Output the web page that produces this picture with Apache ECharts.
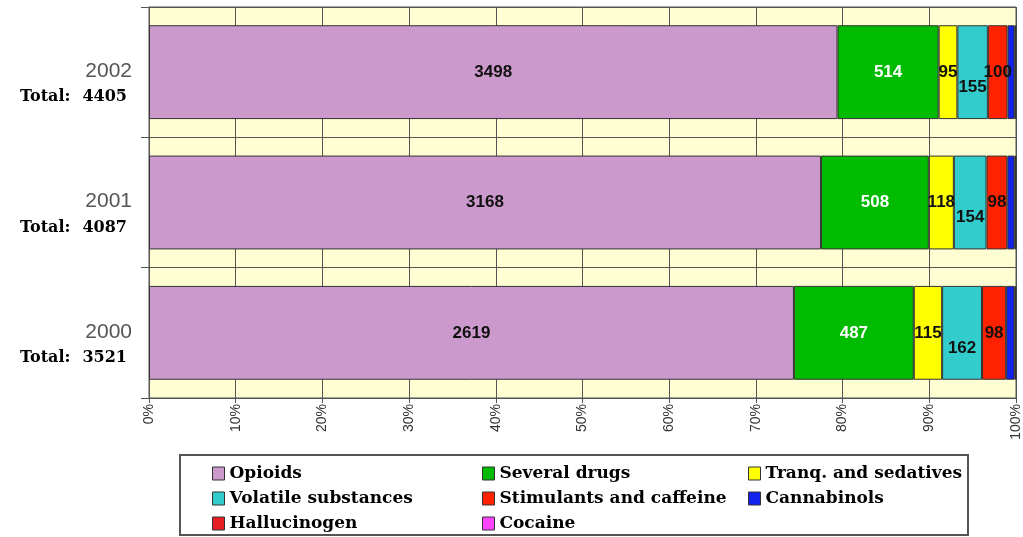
<!DOCTYPE html>
<html>
<head>
<meta charset="utf-8">
<script src="https://cdn.jsdelivr.net/npm/echarts@6/dist/echarts.min.js"></script>
<style>
  html, body { margin: 0; padding: 0; background: #fff; }
  #chart { width: 1023px; height: 537px; }
</style>
</head>
<body>
<div id="chart"></div>
<script>
// years from bottom to top
var years = ["2000", "2001", "2002"];
var totals = [3521, 4087, 4405];

// counts per year
var opioids = [2619, 3168, 3498];
var severalDrugs = [487, 508, 514];
var tranq = [115, 118, 95];
var volatiles = [162, 154, 155];
var stimulants = [98, 98, 100];
var cannabinols = [34, 34, 36];
var hallucinogen = [4, 5, 5];
var cocaine = [2, 2, 2];

var xTicks = [0, 10, 20, 30, 40, 50, 60, 70, 80, 90, 100];

var groups = [
  { name: "Opioids", counts: opioids, color: "#CC99CC", label: "#111" },
  { name: "Several drugs", counts: severalDrugs, color: "#00BB00", label: "#fff" },
  { name: "Tranq. and sedatives", counts: tranq, color: "#FFFF00", label: "#111" },
  { name: "Volatile substances", counts: volatiles, color: "#33CCCC", label: "#111", offset: [0, 15] },
  { name: "Stimulants and caffeine", counts: stimulants, color: "#FF2200", label: "#111" },
  { name: "Cannabinols", counts: cannabinols, color: "#1122EE" },
  { name: "Hallucinogen", counts: hallucinogen, color: "#E81E25" },
  { name: "Cocaine", counts: cocaine, color: "#FF44FF" }
];

var chart = echarts.init(document.getElementById("chart"));

// share of each year's total, in %
function toPercent(counts) {
  return counts.map(function (v, i) {
    return v / totals[i] * 100;
  });
}

var series = groups.map(function (g) {
  return {
    name: g.name,
    type: "bar",
    stack: "all",
    barWidth: "72%",
    itemStyle: { color: g.color, borderColor: "#333", borderWidth: 1 },
    label: {
      show: !!g.label,
      position: "inside",
      offset: g.offset || [0, 0],
      color: g.label,
      fontFamily: "Arial",
      fontWeight: "bold",
      fontSize: 17,
      formatter: function (p) {
        return g.counts[p.dataIndex];
      }
    },
    data: toPercent(g.counts)
  };
});

var legendBase = {
  orient: "vertical",
  icon: "rect",
  itemWidth: 12,
  itemHeight: 13,
  itemGap: 8,
  padding: 0,
  itemStyle: { borderColor: "#333", borderWidth: 1 },
  textStyle: {
    fontFamily: "DejaVu Serif",
    fontWeight: "bold",
    fontSize: 17,
    color: "#000"
  }
};

chart.setOption({
  backgroundColor: "#fff",
  animation: false,
  grid: {
    left: 149,
    right: 6,
    top: 7,
    bottom: 139,
    show: true,
    backgroundColor: "#FFFDD2",
    borderColor: "#555",
    borderWidth: 1
  },
  graphic: [{
    type: "rect",
    shape: { x: 180, y: 455, width: 788, height: 80 },
    style: { fill: "none", stroke: "#555", lineWidth: 2 }
  }],
  legend: [
    Object.assign({}, legendBase, {
      left: 212, top: 465,
      data: ["Opioids", "Volatile substances", "Hallucinogen"]
    }),
    Object.assign({}, legendBase, {
      left: 482, top: 465,
      data: ["Several drugs", "Stimulants and caffeine", "Cocaine"]
    }),
    Object.assign({}, legendBase, {
      left: 748, top: 465,
      data: ["Tranq. and sedatives", "Cannabinols"]
    })
  ],
  xAxis: {
    type: "value",
    min: xTicks[0],
    max: xTicks[xTicks.length - 1],
    interval: 10,
    axisLine: { show: true, lineStyle: { color: "#555" } },
    axisTick: { show: true, length: 5, lineStyle: { color: "#555" } },
    splitLine: { show: true, lineStyle: { color: "#555", width: 1 } },
    axisLabel: {
      rotate: 90,
      margin: 6,
      fontFamily: "Arial",
      fontSize: 14,
      color: "#333",
      formatter: "{value}%"
    }
  },
  yAxis: {
    type: "category",
    data: years,
    axisLine: { show: true, lineStyle: { color: "#555" } },
    axisTick: { show: true, length: 8, lineStyle: { color: "#555" } },
    splitLine: { show: true, lineStyle: { color: "#555", width: 1 } },
    axisLabel: {
      margin: 17,
      padding: [24, 0, 0, 0],
      formatter: function (v, i) {
        return "{y|" + v + "}\n{t|Total:}{n|" + totals[i] + "}";
      },
      rich: {
        y: { fontFamily: "Arial", fontSize: 21, color: "#555", lineHeight: 26, align: "right" },
        t: { fontFamily: "DejaVu Serif", fontWeight: "bold", fontSize: 16, color: "#000", lineHeight: 26, align: "right", padding: [0, 12, 0, 0] },
        n: { fontFamily: "DejaVu Serif", fontWeight: "bold", fontSize: 16, color: "#000", lineHeight: 26, align: "right", padding: [0, 5, 0, 0] }
      }
    }
  },
  series: series
});
</script>
</body>
</html>
